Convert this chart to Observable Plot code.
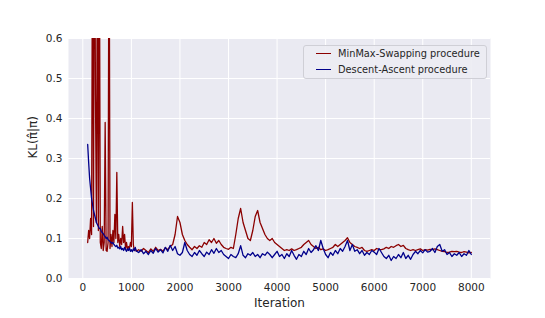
<!DOCTYPE html>
<html>
<head>
<meta charset="utf-8">
<script src="https://cdn.jsdelivr.net/npm/d3@7"></script>
<script src="https://cdn.jsdelivr.net/npm/@observablehq/plot@0.6"></script>
<style>
  html, body { margin: 0; padding: 0; background: white; }
  #wrap { position: relative; width: 545px; height: 318px; font-family: "DejaVu Sans", sans-serif; }
  #legend { position: absolute; left: 303px; top: 45px; width: 182px; height: 32px;
    background: rgba(236,236,243,0.9); border: 1px solid #cfcfd6; border-radius: 3px; font-size: 9.8px; color: #262626; }
  .row { position: absolute; left: 12px; display: flex; align-items: center; height: 14px; }
  .sw { display: inline-block; width: 15px; height: 1px; margin-right: 7px; }
</style>
</head>
<body>
<div id="wrap"><div id="legend"></div></div>
<script>
const seriesNames = ["MinMax-Swapping procedure", "Descent-Ascent procedure"];
const seriesColors = ["#8B0000", "#00008B"];
const xTicks = [0, 1000, 2000, 3000, 4000, 5000, 6000, 7000, 8000];
const yTicks = [0, 0.1, 0.2, 0.3, 0.4, 0.5, 0.6];

// iterations 100..1100 step 20
const iterEarly = d3.range(100, 1101, 20);
// iterations 1150..8000 step 50
const iterMain = d3.range(1150, 8001, 50);

const minmaxEarly = [
  0.090, 0.120, 0.100, 0.150, 0.110, 0.950, 0.130, 1.100, 0.460, 0.140,
  0.850, 0.120, 0.900, 0.090, 0.075, 0.130, 0.070, 0.090, 0.390, 0.070,
  0.068, 0.090, 1.000, 0.075, 0.110, 0.080, 0.120, 0.090, 0.160, 0.100,
  0.265, 0.090, 0.110, 0.080, 0.100, 0.085, 0.130, 0.090, 0.110, 0.075,
  0.090, 0.072, 0.080, 0.075, 0.090, 0.080, 0.190, 0.085, 0.070, 0.075,
  0.068
];
const minmaxMain = [
  0.072, 0.068, 0.075, 0.070, 0.065, 0.074, 0.068, 0.078, 0.070, 0.073,
  0.068, 0.077, 0.072, 0.080, 0.085, 0.110, 0.155, 0.140, 0.110, 0.095,
  0.085, 0.078, 0.072, 0.080, 0.075, 0.082, 0.078, 0.090, 0.085, 0.097,
  0.090, 0.100, 0.088, 0.095, 0.085, 0.078, 0.075, 0.073, 0.078, 0.075,
  0.110, 0.150, 0.175, 0.140, 0.120, 0.100, 0.095, 0.120, 0.155, 0.170,
  0.140, 0.125, 0.110, 0.100, 0.095, 0.100, 0.090, 0.085, 0.080, 0.075,
  0.070, 0.072, 0.070, 0.074, 0.070, 0.072, 0.075, 0.078, 0.085, 0.090,
  0.095, 0.085, 0.080, 0.075, 0.078, 0.072, 0.074, 0.070, 0.072, 0.075,
  0.078, 0.085, 0.080, 0.085, 0.090, 0.095, 0.102, 0.090, 0.085, 0.080,
  0.078, 0.075, 0.078, 0.070, 0.068, 0.070, 0.072, 0.070, 0.075, 0.073,
  0.072, 0.074, 0.078, 0.075, 0.080, 0.078, 0.082, 0.085, 0.080, 0.083,
  0.075, 0.072, 0.070, 0.072, 0.070, 0.072, 0.074, 0.070, 0.072, 0.071,
  0.073, 0.072, 0.074, 0.072, 0.070, 0.068, 0.067, 0.065, 0.066, 0.068,
  0.067, 0.068, 0.066, 0.065, 0.067, 0.066, 0.064, 0.065
];

const descentEarly = [
  0.335, 0.290, 0.250, 0.225, 0.200, 0.185, 0.170, 0.160, 0.150, 0.140,
  0.135, 0.130, 0.125, 0.125, 0.118, 0.115, 0.112, 0.108, 0.105, 0.100,
  0.103, 0.097, 0.095, 0.092, 0.090, 0.088, 0.090, 0.085, 0.082, 0.080,
  0.083, 0.076, 0.078, 0.074, 0.080, 0.072, 0.075, 0.070, 0.078, 0.072,
  0.068, 0.074, 0.070, 0.076, 0.068, 0.072, 0.067, 0.074, 0.070, 0.078,
  0.069
];
const descentMain = [
  0.065, 0.072, 0.062, 0.068, 0.060, 0.070, 0.063, 0.075, 0.066, 0.072,
  0.064, 0.078, 0.068, 0.083, 0.070, 0.080, 0.062, 0.058, 0.065, 0.090,
  0.070, 0.060, 0.055, 0.065, 0.058, 0.070, 0.062, 0.055, 0.066, 0.060,
  0.072, 0.063, 0.075, 0.065, 0.070, 0.060, 0.055, 0.050, 0.060, 0.055,
  0.052, 0.062, 0.082, 0.058, 0.052, 0.062, 0.058, 0.065, 0.055, 0.060,
  0.052, 0.062, 0.058, 0.066, 0.060, 0.052, 0.060, 0.068, 0.055, 0.060,
  0.050, 0.062, 0.055, 0.070, 0.058, 0.048, 0.060, 0.055, 0.068, 0.060,
  0.075, 0.065, 0.072, 0.082, 0.070, 0.095, 0.075, 0.060, 0.052, 0.065,
  0.058, 0.070, 0.062, 0.075, 0.068, 0.080, 0.095, 0.070, 0.085, 0.068,
  0.072, 0.062, 0.070, 0.058, 0.065, 0.060, 0.070, 0.066, 0.060, 0.075,
  0.065, 0.055, 0.050, 0.058, 0.045, 0.055, 0.050, 0.060, 0.052, 0.065,
  0.050, 0.058, 0.048, 0.060, 0.068, 0.062, 0.070, 0.064, 0.072, 0.066,
  0.068, 0.075, 0.065, 0.080, 0.085, 0.068, 0.072, 0.060, 0.065, 0.055,
  0.062, 0.058, 0.065, 0.055, 0.062, 0.058, 0.070, 0.060
];

function build(name, early, main) {
  const rows = [];
  early.forEach((v, i) => { if (i < iterEarly.length) rows.push({series: name, iter: iterEarly[i], kl: v}); });
  main.forEach((v, i) => { if (i < iterMain.length) rows.push({series: name, iter: iterMain[i], kl: v}); });
  return rows;
}
const minmax = build(seriesNames[0], minmaxEarly, minmaxMain);
const descent = build(seriesNames[1], descentEarly, descentMain);

const chart = Plot.plot({
  width: 545,
  height: 318,
  marginLeft: 68,
  marginRight: 55,
  marginTop: 38,
  marginBottom: 40,
  style: {background: "white", fontFamily: "DejaVu Sans, sans-serif", fontSize: "10.5px", color: "#262626", overflow: "visible"},
  x: {domain: [-295, 8395]},
  y: {domain: [0, 0.6]},
  marks: [
    Plot.frame({fill: "#EAEAF2", stroke: null}),
    Plot.gridX(xTicks, {stroke: "white", strokeOpacity: 1, strokeWidth: 1}),
    Plot.gridY(yTicks, {stroke: "white", strokeOpacity: 1, strokeWidth: 1}),
    Plot.axisX(xTicks, {tickSize: 0, tickPadding: 5, tickFormat: d => String(d), label: null, fill: "#262626"}),
    Plot.axisY(yTicks, {tickSize: 0, tickPadding: 6, tickFormat: d3.format(".1f"), label: null, fill: "#262626"}),
    Plot.line(minmax, {x: "iter", y: "kl", stroke: seriesColors[0], strokeWidth: 1.3, clip: true}),
    Plot.line(descent, {x: "iter", y: "kl", stroke: seriesColors[1], strokeWidth: 1.3, clip: true}),
    Plot.text(["Iteration"], {frameAnchor: "bottom", dy: 25, lineAnchor: "middle", fontSize: 12, fill: "#262626"}),
    Plot.text(["KL(π̂|π)"], {frameAnchor: "left", dx: -35, rotate: -90, lineAnchor: "middle", fontSize: 12, fill: "#262626"})
  ]
});
const wrap = document.getElementById("wrap");
wrap.insertBefore(chart, wrap.firstChild);

const legend = document.getElementById("legend");
seriesNames.forEach((n, i) => {
  const r = document.createElement("div");
  r.className = "row";
  r.style.top = (i === 0 ? 0 : 16) + "px";
  const sw = document.createElement("span");
  sw.className = "sw";
  sw.style.background = seriesColors[i];
  const t = document.createElement("span");
  t.textContent = n;
  r.appendChild(sw); r.appendChild(t);
  legend.appendChild(r);
});
</script>
</body>
</html>
